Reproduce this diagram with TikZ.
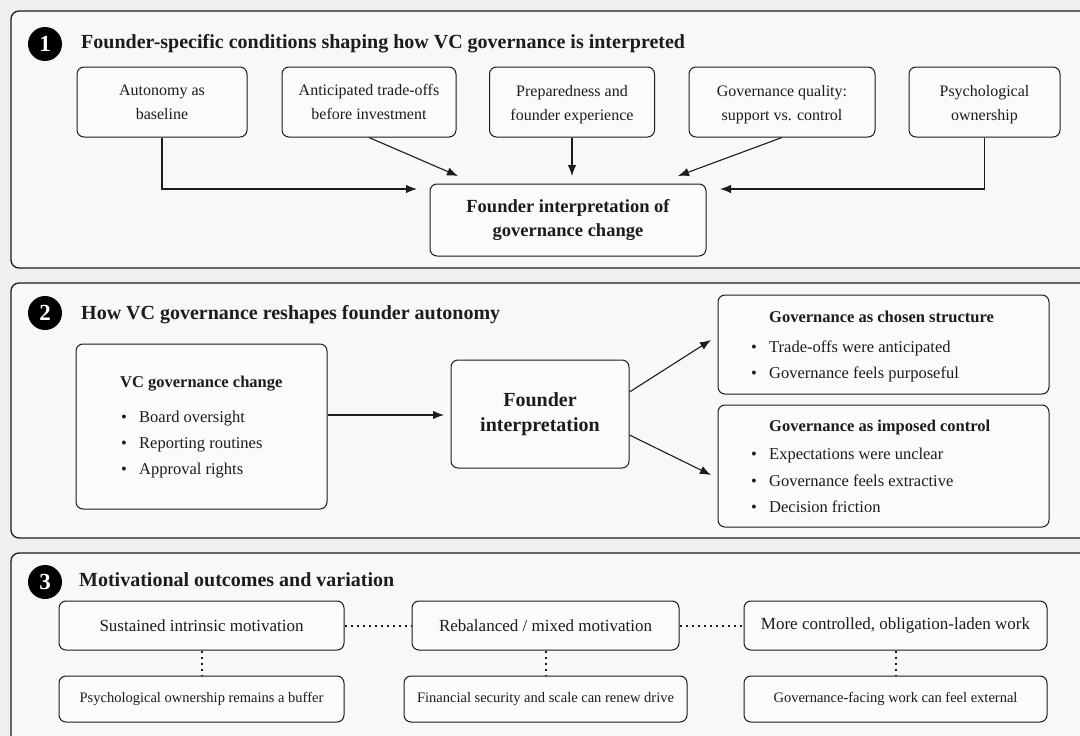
\documentclass[tikz,border=0pt]{standalone}
\usepackage{fontspec}
\setmainfont{Liberation Serif}
\usetikzlibrary{arrows.meta}
\definecolor{pagebg}{HTML}{EFEFEF}
\definecolor{panelbg}{HTML}{F8F8F8}
\definecolor{boxbg}{HTML}{FBFBFB}
\definecolor{ink}{HTML}{1C1C1C}
\begin{document}
\begin{tikzpicture}[x=1pt,y=-1pt,
  panel/.style={draw=ink,line width=1.3pt,fill=panelbg,rounded corners=8pt},
  box/.style={draw=ink,line width=1pt,fill=boxbg,rounded corners=7pt,inner sep=0pt,
    align=center,text=ink,font=\fontsize{16}{24}\selectfont},
  boldbox/.style={box,font=\fontsize{18.5}{24}\selectfont\bfseries},
  rowbox/.style={box,font=\fontsize{17}{20}\selectfont},
  smallbox/.style={box,font=\fontsize{14.5}{17}\selectfont},
  badge/.style={circle,fill=black,text=white,inner sep=0pt,minimum size=34pt,
    font=\fontsize{23}{23}\selectfont\bfseries},
  paneltitle/.style={anchor=base west,inner sep=0pt,text=ink,font=\fontsize{20}{22}\selectfont\bfseries},
  listhead/.style={anchor=base west,inner sep=0pt,text=ink,font=\fontsize{16.5}{18}\selectfont\bfseries},
  listitem/.style={anchor=base west,inner sep=0pt,text=ink,font=\fontsize{16.5}{18}\selectfont},
  arr/.style={draw=ink,line width=1.1pt,-{Latex[length=11pt,width=8.5pt]}},
  link/.style={draw=ink,line width=2pt,dash pattern=on 2pt off 4pt},
]
\useasboundingbox (0,0) rectangle (1080,736);
\fill[pagebg] (0,0) rectangle (1080,736);
\clip (0,0) rectangle (1080,736);

% ---------------- Panel 1 ----------------
\draw[panel] (11,11) rectangle (1100,268);
\node[badge] (n1) at (45,44) {1};
\node[paneltitle] (t1) at (81,48) {Founder-specific conditions shaping how VC governance is interpreted};

\node[box,minimum width=170pt,minimum height=70pt] (ca) at (162,102) {Autonomy as\\baseline};
\node[box,minimum width=174pt,minimum height=70pt] (cb) at (369,102) {Anticipated trade-offs\\before investment};
\node[box,minimum width=165pt,minimum height=70pt] (cc) at (572,102) {\strut Preparedness and\\founder experience};
\node[box,minimum width=186pt,minimum height=70pt] (cd) at (782,102) {\strut Governance quality:\\support vs. control};
\node[box,minimum width=151pt,minimum height=70pt] (ce) at (984.5,102) {\strut Psychological\\ownership};
\node[boldbox,minimum width=276pt,minimum height=72pt] (fi) at (568,220) {Founder interpretation of\\governance change};

\coordinate (ina) at (417,189);
\coordinate (inb) at (458,176);
\coordinate (inc) at (572,176);
\coordinate (ind) at (678,176);
\coordinate (ine) at (720,189);
\draw[arr] (ca.south) |- (ina);
\draw[arr] (cb.south) -- (inb);
\draw[arr] (cc.south) -- (inc);
\draw[arr] (cd.south) -- (ind);
\draw[arr] (ce.south) |- (ine);

% ---------------- Panel 2 ----------------
\draw[panel] (11,283) rectangle (1100,538);
\node[badge] (n2) at (45,313) {2};
\node[paneltitle] (t2) at (81,319) {How VC governance reshapes founder autonomy};

\node[box,minimum width=251pt,minimum height=165pt] (vc) at (201.5,426.5) {};
\node[listhead] (vch) at (120,387) {VC governance change};
\node[listitem] (vcb1) at (121,422) {•};
\node[listitem] (vci1) at (139,422) {Board oversight};
\node[listitem] (vcb2) at (121,448) {•};
\node[listitem] (vci2) at (139,448) {Reporting routines};
\node[listitem] (vcb3) at (121,474) {•};
\node[listitem] (vci3) at (139,474) {Approval rights};

\node[box,minimum width=178pt,minimum height=108pt,
  font=\fontsize{20}{25}\selectfont\bfseries] (fint) at (540,414) {Founder\\interpretation};

\coordinate (vcin) at (444,415);
\draw[arr] (vc.east |- vcin) -- (vcin);

\node[box,minimum width=331pt,minimum height=99pt] (cs) at (883.5,344.5) {};
\node[listhead] (csh) at (769,322) {Governance as chosen structure};
\node[listitem] (csb1) at (751,352) {•};
\node[listitem] (csi1) at (769,352) {Trade-offs were anticipated};
\node[listitem] (csb2) at (751,378) {•};
\node[listitem] (csi2) at (769,378) {Governance feels purposeful};

\node[box,minimum width=331pt,minimum height=122pt] (ic) at (883.5,466) {};
\node[listhead] (ich) at (769,431) {Governance as imposed control};
\node[listitem] (icb1) at (751,459) {•};
\node[listitem] (ici1) at (769,459) {Expectations were unclear};
\node[listitem] (icb2) at (751,486) {•};
\node[listitem] (ici2) at (769,486) {Governance feels extractive};
\node[listitem] (icb3) at (751,512) {•};
\node[listitem] (ici3) at (769,512) {Decision friction};

\coordinate (csin) at (711,340);
\coordinate (icin) at (711,475);
\draw[arr] (fint.east |- 0,392) -- (csin);
\draw[arr] (fint.east |- 0,435) -- (icin);

% ---------------- Panel 3 ----------------
\draw[panel] (11,553) rectangle (1100,760);
\node[badge] (n3) at (45,582) {3};
\node[paneltitle] (t3) at (79,586) {Motivational outcomes and variation};

\node[rowbox,minimum width=285pt,minimum height=49pt] (m1) at (201.5,625.5) {Sustained intrinsic motivation};
\node[rowbox,minimum width=267pt,minimum height=49pt] (m2) at (545.5,625.5) {Rebalanced / mixed motivation};
\node[rowbox,minimum width=303pt,minimum height=49pt] (m3) at (895.5,625.5) {More controlled, obligation-laden work};

\node[smallbox,minimum width=285pt,minimum height=46pt] (d1) at (201.5,699) {Psychological ownership remains a buffer};
\node[smallbox,minimum width=283pt,minimum height=46pt] (d2) at (545.5,699) {Financial security and scale can renew drive};
\node[smallbox,minimum width=303pt,minimum height=46pt] (d3) at (895.5,699) {Governance-facing work can feel external};

\draw[link] (m1.east) -- (m2.west);
\draw[link] (m2.east) -- (m3.west);
\draw[link] (m1.south) -- (d1.north);
\draw[link] (m2.south) -- (d2.north);
\draw[link] (m3.south) -- (d3.north);
\end{tikzpicture}
\end{document}
